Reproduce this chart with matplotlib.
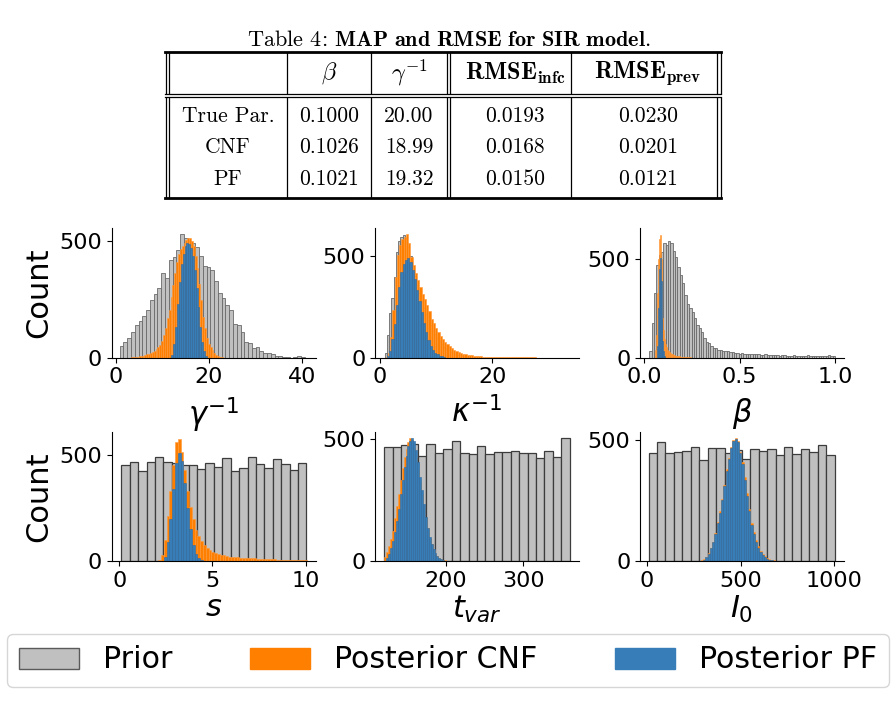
import numpy as np
import matplotlib
matplotlib.use('Agg')
import matplotlib.pyplot as plt
from matplotlib.lines import Line2D
from matplotlib.patches import Patch

W, H = 896, 720

# ---- table data ----
row_names = ['True Par.', 'CNF', 'PF']
beta_vals = ['0.1000', '0.1026', '0.1021']
gamma_vals = ['20.00', '18.99', '19.32']
rmse_infc = ['0.0193', '0.0168', '0.0150']
rmse_prev = ['0.0230', '0.0201', '0.0121']

# ---- histogram counts ----
gamma_prior = [50, 66, 83, 108, 140, 155, 179, 202, 245, 271, 296, 360, 339, 416, 429, 460, 527, 510, 499, 489,
               474, 434, 393, 389, 375, 328, 275, 256, 224, 204, 144, 140, 108, 68, 61, 40, 47, 28, 21, 19,
               14, 9, 7, 4, 3, 0, 2, 7, 3]
gamma_cnf = [2, 3, 4, 5, 6, 8, 9, 11, 14, 16, 19, 24, 30, 37, 44, 53, 70, 95, 125, 170,
             205, 258, 310, 362, 410, 445, 465, 478, 490, 503, 512, 510, 500, 475, 435, 385, 315, 248, 175, 125,
             85, 60, 44, 31, 20, 12, 7, 4, 2]
gamma_pf = [10, 60, 130, 230, 325, 400, 445, 475, 489, 487, 470, 435, 375, 296, 215, 130, 65, 28, 6]

kappa_prior = [25, 110, 220, 295, 395, 520, 570, 590, 600, 585, 545, 500, 450, 400, 355, 315, 280, 245, 215, 185,
               160, 135, 115, 95, 80, 65, 54, 44, 36, 29, 23, 18, 14, 11, 9, 7, 5, 4]
kappa_cnf = [4, 25, 100, 235, 395, 505, 554, 580, 592, 605, 560, 495, 456, 415, 382, 349, 310, 290, 259, 228,
             192, 169, 148, 128, 106, 90, 79, 67, 56, 46, 39, 32, 26, 22, 18, 16, 14, 12, 11, 9,
             8, 6, 6, 5, 5, 4, 3, 3, 2, 2, 2, 2, 1, 1, 1, 1, 1, 1, 1, 1, 1, 1, 1, 1, 1, 1, 1]
kappa_pf = [6, 33, 90, 165, 259, 345, 420, 460, 480, 488, 470, 430, 385, 333, 280, 225, 169, 125, 87, 59,
            40, 25, 16, 10, 6, 3]

beta_prior = [34, 175, 327, 471, 520, 536, 581, 572, 593, 581, 542, 508, 458, 420, 378, 319, 273, 254, 231, 200,
              166, 149, 129, 98, 78, 73, 61, 51, 47, 39, 37, 34, 34, 33, 31, 27, 24, 26, 20, 26,
              20, 17, 20, 17, 20, 17, 17, 15, 14, 17, 15, 13, 16, 12, 14, 11, 13, 12, 10, 11,
              9, 12, 10, 9, 11, 8, 10, 12, 9, 8, 10, 11, 9, 8, 10, 9, 12, 8, 10]
beta_cnf = [40, 115, 330, 500, 600, 624, 500, 330, 200, 140, 95, 70, 52, 40, 32, 27, 23, 20, 17, 14,
            13, 11, 10, 9, 8, 7, 6, 5, 5, 4, 4, 3, 3, 3, 2, 2, 2, 2, 1]
beta_pf = [60, 250, 450, 505, 390, 195, 85, 35, 10]

s_prior = [453, 467, 423, 467, 489, 467, 460, 455, 453, 433, 461, 442, 484, 425, 441, 492, 458, 439, 480, 456,
           430, 461]
s_cnf = [5, 30, 100, 210, 330, 455, 560, 575, 515, 430, 330, 255, 200, 146, 118, 92, 74, 61, 52, 44,
         38, 34, 30, 27, 24, 21, 20, 19, 17, 16, 15, 14, 14, 13, 12, 11, 11, 10, 9, 9,
         8, 8, 7, 7, 6, 6, 6, 5, 5, 5, 5, 4, 4]
s_pf = [20, 90, 200, 340, 460, 510, 470, 370, 250, 150, 75, 35, 12, 4]

tvar_prior = [469, 469, 475, 478, 430, 480, 444, 459, 493, 441, 437, 473, 440, 448, 445, 452, 441, 444, 423, 452,
              425, 503]
tvar_cnf = [18, 38, 60, 92, 125, 178, 225, 275, 330, 380, 425, 460, 489, 505, 495, 465, 425, 375, 325, 275,
            225, 175, 135, 95, 68, 45, 30, 20, 13, 8, 5, 3, 1]
tvar_pf = [12, 28, 55, 82, 120, 165, 215, 275, 330, 385, 430, 470, 493, 503, 490, 455, 405, 345, 290, 235,
           180, 135, 98, 68, 48, 32, 20, 13, 8, 5]

i0_prior = [445, 490, 448, 449, 454, 470, 417, 465, 465, 445, 460, 420, 461, 453, 461, 438, 470, 441, 461, 449,
            479, 438]
i0_cnf = [3, 8, 18, 32, 55, 80, 115, 160, 205, 255, 315, 380, 425, 470, 500, 510, 495, 450, 410, 345,
          280, 215, 155, 120, 85, 60, 42, 30, 22, 13, 8, 5, 3, 1]
i0_pf = [6, 15, 30, 52, 77, 112, 155, 200, 250, 310, 372, 420, 465, 495, 505, 490, 445, 400, 335, 270,
         205, 148, 110, 78, 55, 38, 26, 18, 10, 6, 3]

GREY = '#c0c0c0'
ORANGE = '#ff7f00'
BLUE = '#377eb8'

fig = plt.figure(figsize=(8.96, 7.2), dpi=100)


def fx(x):
    return x / W


def fy(y):
    return 1 - y / H


# ---- table ----
fig.text(fx(449), fy(40), r'Table 4: $\mathbf{MAP\ and\ RMSE\ for\ SIR\ model.}$',
         ha='center', va='center', fontsize=16, family='cmr10', math_fontfamily='cm')

x0, x1 = 165, 721
for y, lw in [(52, 2.0), (93.5, 0.9), (96.5, 0.9), (198, 2.0)]:
    fig.add_artist(Line2D([fx(x0), fx(x1)], [fy(y), fy(y)], color='black', lw=lw))
for x in [165.5, 169, 287, 371, 446.5, 450, 571, 717, 720.5]:
    for ya, yb in [(53, 92.5), (97.5, 197)]:
        fig.add_artist(Line2D([fx(x), fx(x)], [fy(ya), fy(yb)], color='black', lw=0.9))

col_x = [228, 329, 409, 515, 648]
headers = ['', r'$\beta$', r'$\gamma^{\mathbf{-1}}$',
           r'$\mathbf{RMSE}_{\mathbf{infc}}$', r'$\mathbf{RMSE}_{\mathbf{prev}}$']
for cx, h in zip(col_x, headers):
    fig.text(fx(cx), fy(73), h, ha='center', va='center', fontsize=17.5,
             family='cmr10', math_fontfamily='cm')
row_y = [116, 147, 179]
for i, ry in enumerate(row_y):
    cells = [row_names[i], beta_vals[i], gamma_vals[i], rmse_infc[i], rmse_prev[i]]
    for cx, c in zip(col_x, cells):
        fig.text(fx(cx), fy(ry), c, ha='center', va='center', fontsize=15.5, family='cmr10')

# ---- histograms ----
lefts = [111.5, 375, 640]
width_px = 204
rows = [(228, 357.7), (431.7, 561)]

panels = [
    # prior, (lo, hi), cnf, (lo, hi), pf, (lo, hi), xlim, ylim, xticks, xlabel
    (gamma_prior, (0.9, 40.6), gamma_cnf, (3.4, 23.0), gamma_pf, (12.0, 19.6),
     (-0.86, 42.9), 554, [0, 20, 40], r'$\gamma^{-1}$'),
    (kappa_prior, (0.8, 16.0), kappa_cnf, (1.0, 27.8), kappa_pf, (1.2, 11.6),
     (-0.9, 35.4), 636, [0, 20], r'$\kappa^{-1}$'),
    (beta_prior, (0.025, 1.0), beta_cnf, (0.055, 0.25), beta_pf, (0.065, 0.11),
     (-0.023, 1.047), 657, [0.0, 0.5, 1.0], r'$\beta$'),
    (s_prior, (0.12, 10.04), s_cnf, (2.1, 10.05), s_pf, (2.4, 4.5),
     (-0.41, 10.53), 610, [0, 5, 10], r'$s$'),
    (tvar_prior, (120, 360), tvar_cnf, (120, 202.5), tvar_pf, (122.5, 197.5),
     (108, 372), 530, [200, 300], r'$t_{var}$'),
    (i0_prior, (8, 1004), i0_cnf, (288, 696), i0_pf, (300, 672),
     (-37.7, 1053), 534, [0, 500, 1000], r'$I_0$'),
]


def draw_hist(ax, counts, rng, color, edge, lw):
    edges = np.linspace(rng[0], rng[1], len(counts) + 1)
    ax.hist(edges[:-1], bins=edges, weights=counts, color=color, edgecolor=edge, linewidth=lw)


for k, p in enumerate(panels):
    prior, prng, cnf, crng, pf, frng, xlim, ytop, xticks, xlabel = p
    r, c = divmod(k, 3)
    top, bot = rows[r]
    ax = fig.add_axes([fx(lefts[c]), fy(bot), width_px / W, (bot - top) / H])
    if r == 0:
        draw_hist(ax, prior, prng, GREY, '#6a6a6a', 0.6)
    else:
        draw_hist(ax, prior, prng, GREY, '#3c3c3c', 0.9)
    draw_hist(ax, cnf, crng, ORANGE, '#ff9a3c', 0.4)
    draw_hist(ax, pf, frng, BLUE, '#2d6aa3', 0.4)
    ax.set_xlim(*xlim)
    ax.set_ylim(0, ytop)
    ax.set_xticks(xticks)
    ax.set_yticks([0, 500])
    ax.tick_params(labelsize=16)
    ax.spines['top'].set_visible(False)
    ax.spines['right'].set_visible(False)
    ax.set_xlabel(xlabel, fontsize=22, labelpad=6 if r == 0 else 2)
    if c == 0:
        ax.set_ylabel('Count', fontsize=22)

handles = [Patch(facecolor=GREY, edgecolor='#5a5a5a', label='Prior'),
           Patch(facecolor=ORANGE, edgecolor=ORANGE, label='Posterior CNF'),
           Patch(facecolor=BLUE, edgecolor=BLUE, label='Posterior PF')]
fig.legend(handles=handles, loc='center', ncol=3, mode='expand', fontsize=21.6,
           bbox_to_anchor=(fx(7), fy(688), 882 / W, 56 / H), borderaxespad=0)

fig.savefig('out.png', dpi=100)
